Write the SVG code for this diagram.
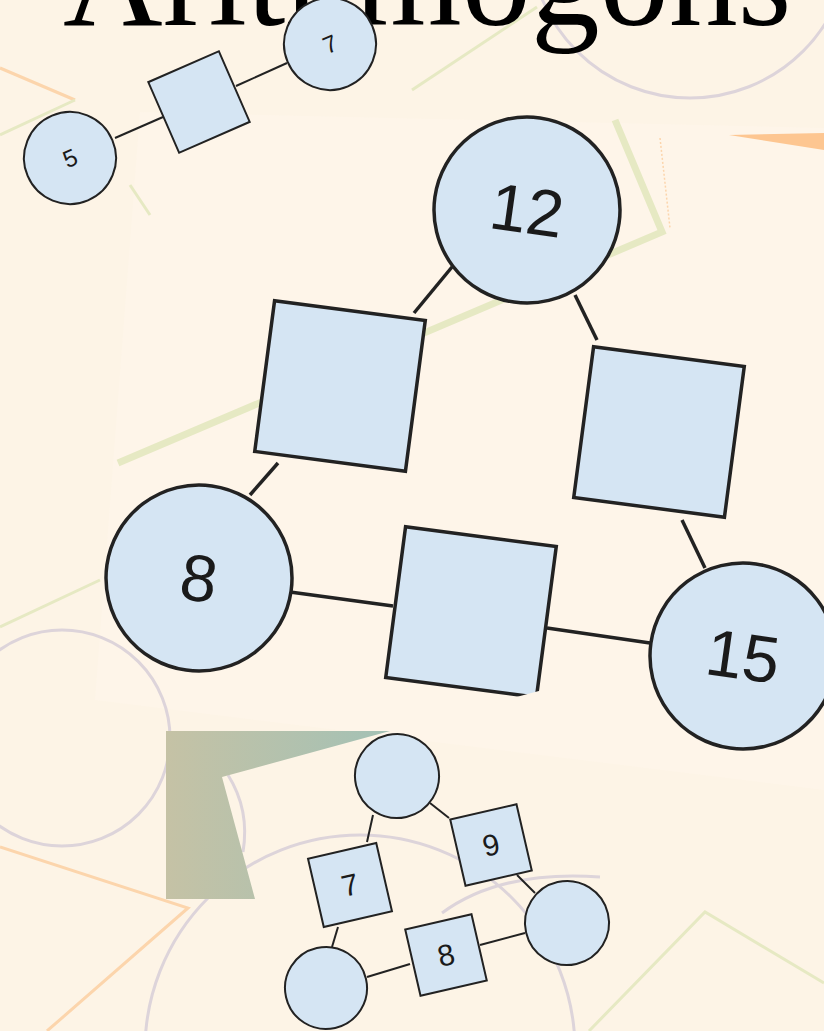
<svg xmlns="http://www.w3.org/2000/svg" width="824" height="1031" viewBox="0 0 824 1031">
<defs>
<linearGradient id="gr" x1="0" y1="0" x2="1" y2="0">
<stop offset="0" stop-color="#C5C2A5"/>
<stop offset="1" stop-color="#A3C1B5"/>
</linearGradient>
<style>
.n{fill:#D5E5F3;stroke:#222;}
.big .n{stroke-width:3.5;}
.sm .n{stroke-width:2;}
.ed line{stroke:#222;}
.big.ed line{stroke-width:3.5;}
.sm.ed line{stroke-width:2;}
.lab{font-family:"Liberation Sans",Arial,sans-serif;fill:#1a1a1a;text-anchor:middle;}
.lav{fill:none;stroke:#DDD4DA;stroke-width:3;}
.org{fill:none;stroke:#FCD5AC;stroke-width:3;}
.grn{fill:none;stroke:#E6E9C3;stroke-width:3;}
</style>
</defs>
<rect width="824" height="1031" fill="#FDF4E6"/>
<g id="background">
<polygon points="140,112 824,128 824,790 95,700" fill="#FEF5E9"/>
<circle cx="690" cy="-62" r="160" class="lav"/>
<circle cx="62" cy="738" r="108" class="lav"/>
<circle cx="360" cy="1050" r="215" class="lav"/>
<path d="M228,775 Q250,810 243,852" class="lav"/>
<path d="M442,913 Q500,870 600,877" class="lav"/>
<polyline points="0,847 188,908 47,1031" class="org"/>
<polyline points="0,68 75,100" class="org"/>
<polygon points="729,135 824,133 824,150" fill="#FDC691"/>
<polyline points="589,1031 705,912 824,983" class="grn"/>
<polyline points="0,627 100,580" class="grn"/>
<polyline points="0,135 75,100" class="grn"/>
<polyline points="412,90 537,7" class="grn"/>
<polyline points="130,185 150,215" class="grn" stroke-width="5"/>
<polyline points="615,120 662,232 118,463" fill="none" stroke="#E6E9C3" stroke-width="7"/>
<line x1="660" y1="138" x2="670" y2="228" stroke="#FCD5AC" stroke-width="1.5" stroke-dasharray="2 2"/>
</g>
<text x="63" y="25" font-family="Liberation Serif,'Times New Roman',serif" font-size="138" fill="#000">Arithmogons</text>

<g id="connectors">
<g class="sm ed">
<line x1="115" y1="138" x2="163" y2="117"/>
<line x1="236" y1="86" x2="287" y2="63"/>
</g>
<g class="big ed">
<line x1="452" y1="267" x2="414" y2="313"/>
<line x1="575" y1="295" x2="597" y2="340"/>
<line x1="682" y1="520" x2="705" y2="568"/>
<line x1="547" y1="628" x2="650" y2="643"/>
<line x1="290" y1="592" x2="393" y2="606"/>
<line x1="250" y1="495" x2="278" y2="463"/>
</g>
<g class="sm ed">
<line x1="373" y1="815" x2="367" y2="842"/>
<line x1="338" y1="927" x2="332" y2="947"/>
<line x1="430" y1="803" x2="449" y2="818"/>
<line x1="517" y1="875" x2="535" y2="893"/>
<line x1="480" y1="945" x2="525" y2="933"/>
<line x1="367" y1="977" x2="410" y2="964"/>
</g>
</g>

<g class="sm">
<g id="a-c5" transform="translate(70,158) rotate(-23)"><circle r="46" class="n"/><text class="lab" y="8.5" font-size="24">5</text></g>
<g id="a-s" transform="translate(199,102) rotate(-23.6)"><rect x="-38.5" y="-38.5" width="77" height="77" class="n"/></g>
<g id="a-c7" transform="translate(330,44) rotate(-23)"><circle r="46" class="n"/><text class="lab" y="8.5" font-size="24">7</text></g>
</g>

<g class="big">
<g id="b-c12" transform="translate(527,210) rotate(8)"><circle r="93" class="n"/><text class="lab" y="23" font-size="66">12</text></g>
<g id="b-s1" transform="translate(340,386) rotate(7.5)"><rect x="-76" y="-76" width="152" height="152" class="n"/></g>
<g id="b-s2" transform="translate(659,432) rotate(7.5)"><rect x="-76" y="-76" width="152" height="152" class="n"/></g>
<g id="b-s3" transform="translate(471,612) rotate(7.5)"><rect x="-76" y="-76" width="152" height="152" class="n"/></g>
<g id="b-c8" transform="translate(199,578) rotate(8)"><circle r="93" class="n"/><text class="lab" y="23" font-size="66">8</text></g>
<g id="b-c15" transform="translate(743,656) rotate(8)"><circle r="93" class="n"/><text class="lab" y="23" font-size="66">15</text></g>
</g>

<polygon points="486,705 550,688 560,694 560,712 486,712" fill="#FEF5E9"/>
<polygon points="166,731 390,731 222,777 255,899 166,899" fill="url(#gr)"/>

<g class="sm">
<g id="c-top" transform="translate(397,776) rotate(-13)"><circle r="42" class="n"/></g>
<g id="c-s7" transform="translate(350,885) rotate(-13)"><rect x="-35" y="-35" width="70" height="70" class="n"/><text class="lab" y="10.5" font-size="30">7</text></g>
<g id="c-s9" transform="translate(491,845) rotate(-13)"><rect x="-34" y="-34" width="68" height="68" class="n"/><text class="lab" y="10.5" font-size="30">9</text></g>
<g id="c-s8" transform="translate(446,955) rotate(-13)"><rect x="-34" y="-34" width="68" height="68" class="n"/><text class="lab" y="10.5" font-size="30">8</text></g>
<g id="c-bl" transform="translate(326,988) rotate(-13)"><circle r="41" class="n"/></g>
<g id="c-r" transform="translate(567,923) rotate(-13)"><circle r="42" class="n"/></g>
</g>
</svg>
